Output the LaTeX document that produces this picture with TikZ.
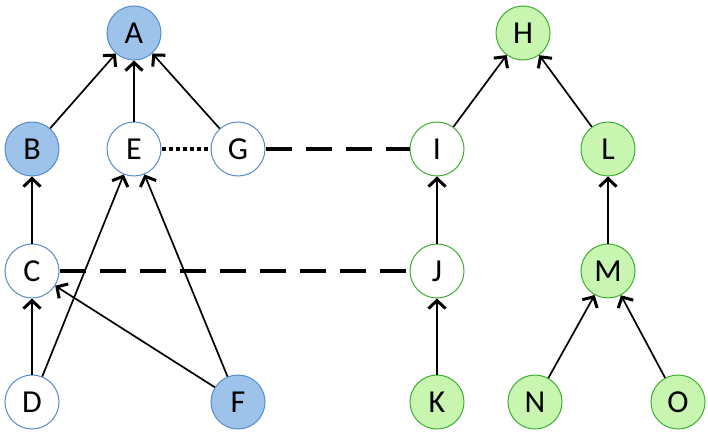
\documentclass[tikz,border=0pt]{standalone}
\usepackage{fontspec}
\setmainfont{Carlito}
\usetikzlibrary{arrows.meta}
\definecolor{bfill}{RGB}{157,195,235}
\definecolor{bdraw}{RGB}{84,140,205}
\definecolor{gfill}{RGB}{200,245,175}
\definecolor{gdraw}{RGB}{60,175,50}
\begin{document}
\begin{tikzpicture}[x=1pt,y=-1pt,
  nd/.style={circle,minimum size=54pt,inner sep=0pt,line width=1pt,font=\fontsize{32}{34}\selectfont},
  bnode/.style={nd,draw=bdraw,fill=bfill},
  bwhite/.style={nd,draw=bdraw,fill=white},
  gnode/.style={nd,draw=gdraw,fill=gfill},
  gwhite/.style={nd,draw=gdraw,fill=white},
  edge/.style={line width=1.7pt,-{Straight Barb[length=8pt,width=17pt,line width=3pt]}},
  link/.style={line width=3.5pt,dash pattern=on 26pt off 14pt},
  dotlink/.style={line width=3.5pt,dash pattern=on 4pt off 3pt}]
\useasboundingbox (0,0) rectangle (708,436);
\node[bnode] (A) at (134,33) {A};
\node[bnode] (B) at (32,149) {B};
\node[bwhite] (E) at (134,149) {E};
\node[bwhite] (G) at (238,149) {G};
\node[bwhite] (C) at (32,271) {C};
\node[bwhite] (D) at (32,402) {D};
\node[bnode] (F) at (238,402) {F};
\node[gnode] (H) at (523,33) {H};
\node[gwhite] (I) at (437,149) {I};
\node[gnode] (L) at (608,149) {L};
\node[gwhite] (J) at (437,271) {J};
\node[gnode] (M) at (608,271) {M};
\node[gnode] (K) at (437,402) {K};
\node[gnode] (N) at (535,402) {N};
\node[gnode] (O) at (678,402) {O};
\draw[edge] (B) -- (A);
\draw[edge] (E) -- (A);
\draw[edge] (G) -- (A);
\draw[edge] (C) -- (B);
\draw[edge] (D) -- (C);
\draw[edge] (D) -- (E);
\draw[edge] (F) -- (E);
\draw[edge] (F) -- (C);
\draw[edge] (I) -- (H);
\draw[edge] (L) -- (H);
\draw[edge] (J) -- (I);
\draw[edge] (K) -- (J);
\draw[edge] (M) -- (L);
\draw[edge] (N) -- (M);
\draw[edge] (O) -- (M);
\draw[dotlink] (E) -- (G);
\draw[link] (G) -- (I);
\draw[link] (C) -- (J);
\end{tikzpicture}
\end{document}
